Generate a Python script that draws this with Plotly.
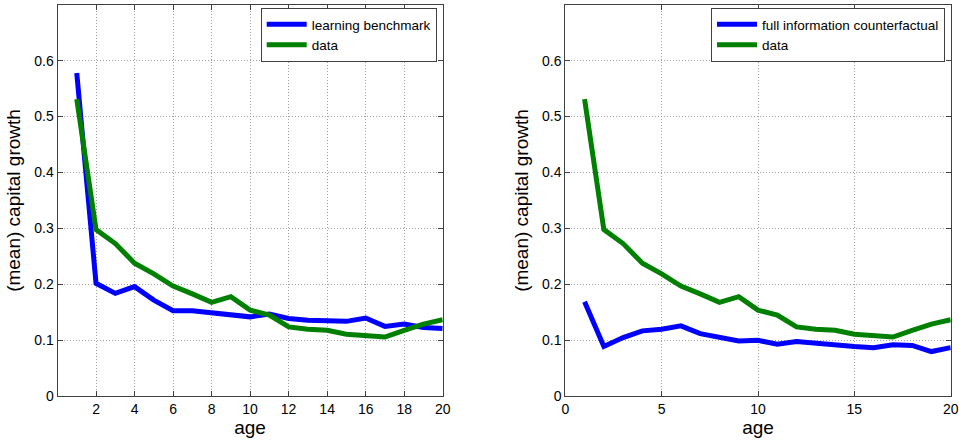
import plotly.graph_objects as go

# Age grid (years since entry)
age = list(range(1, 21))

# Mean capital growth by age
learning_benchmark = [0.578, 0.202, 0.184, 0.196, 0.172, 0.153, 0.153, 0.150, 0.146, 0.142,
                      0.147, 0.139, 0.136, 0.135, 0.134, 0.140, 0.125, 0.129, 0.123, 0.121]
data_series = [0.531, 0.298, 0.273, 0.238, 0.219, 0.197, 0.183, 0.168, 0.178, 0.154,
               0.145, 0.124, 0.120, 0.118, 0.111, 0.109, 0.106, 0.118, 0.129, 0.137]
full_info = [0.169, 0.089, 0.105, 0.117, 0.120, 0.126, 0.112, 0.106, 0.099, 0.100,
             0.093, 0.098, 0.095, 0.090, 0.089, 0.087, 0.092, 0.091, 0.080, 0.087]

left_xticks = [2, 4, 6, 8, 10, 12, 14, 16, 18, 20]
right_xticks = [0, 5, 10, 15, 20]
yticks = [0, 0.1, 0.2, 0.3, 0.4, 0.5, 0.6]
ytick_text = ["0", "0.1", "0.2", "0.3", "0.4", "0.5", "0.6"]

BLUE = "#0000FF"
GREEN = "#008000"
FONT = "Liberation Sans, Arial, sans-serif"
W, H = 959, 441

fig = go.Figure()
fig.add_trace(go.Scatter(x=age, y=learning_benchmark, mode="lines", name="learning benchmark",
                         line=dict(color=BLUE, width=5), xaxis="x", yaxis="y", legend="legend"))
fig.add_trace(go.Scatter(x=age, y=data_series, mode="lines", name="data",
                         line=dict(color=GREEN, width=5), xaxis="x", yaxis="y", legend="legend"))
fig.add_trace(go.Scatter(x=age, y=full_info, mode="lines", name="full information counterfactual",
                         line=dict(color=BLUE, width=5), xaxis="x2", yaxis="y2", legend="legend2"))
fig.add_trace(go.Scatter(x=age, y=data_series, mode="lines", name="data",
                         line=dict(color=GREEN, width=5), xaxis="x2", yaxis="y2", legend="legend2"))

y_dom = [1 - 396.3 / H, 1 - 4.7 / H]
left_dom = [57.5 / W, 442.7 / W]
right_dom = [565.3 / W, 950.7 / W]

axis_common = dict(
    showline=True, linecolor="#404040", linewidth=1, mirror="ticks",
    ticks="inside", ticklen=5, tickcolor="#404040",
    showgrid=True, gridcolor="#a0a0a0", griddash="1px,2px", gridwidth=1,
    zeroline=False, automargin=False,
    tickfont=dict(family=FONT, size=14, color="black"),
)

xtitle = dict(text="age", font=dict(family=FONT, size=19, color="black"), standoff=3)
ytitle = dict(text="(mean) capital growth", font=dict(family=FONT, size=19, color="black"), standoff=8)

legend_common = dict(
    xanchor="right", yanchor="top", bgcolor="white",
    bordercolor="#404040", borderwidth=1,
    font=dict(family=FONT, size=13.5, color="black"),
    tracegroupgap=0, itemwidth=40,
)

fig.update_layout(
    width=W, height=H,
    margin=dict(l=0, r=0, t=0, b=0),
    paper_bgcolor="white", plot_bgcolor="white",
    font=dict(family=FONT, color="black"),
    xaxis=dict(domain=left_dom, anchor="y", range=[0, 20], tickvals=left_xticks,
               title=xtitle, **axis_common),
    yaxis=dict(domain=y_dom, anchor="x", range=[0, 0.7], tickvals=yticks,
               ticktext=ytick_text, title=ytitle, **axis_common),
    xaxis2=dict(domain=right_dom, anchor="y2", range=[0, 20], tickvals=right_xticks,
                title=xtitle, **axis_common),
    yaxis2=dict(domain=y_dom, anchor="x2", range=[0, 0.7], tickvals=yticks,
                ticktext=ytick_text, title=ytitle, **axis_common),
    legend=dict(x=436.7 / W, y=1 - 8 / H, **legend_common),
    legend2=dict(x=945 / W, y=1 - 8 / H, **legend_common),
    showlegend=True,
)

fig.write_html("out.html")
